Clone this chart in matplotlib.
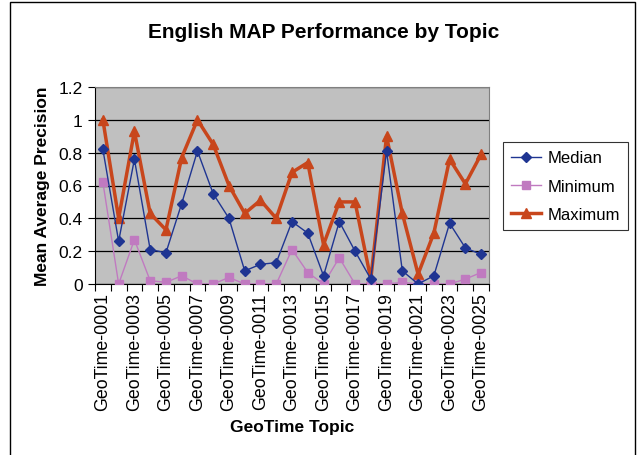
import matplotlib
matplotlib.use("Agg")
import matplotlib.pyplot as plt
from matplotlib.patches import Rectangle
import numpy as np

topics = [f"GeoTime-{i:04d}" for i in range(1, 26)]
median = [0.82, 0.26, 0.76, 0.21, 0.19, 0.49, 0.81, 0.55, 0.40, 0.08, 0.12, 0.13,
          0.38, 0.31, 0.05, 0.38, 0.20, 0.03, 0.81, 0.08, 0.00, 0.05, 0.37, 0.22, 0.18]
minimum = [0.62, 0.00, 0.27, 0.02, 0.01, 0.05, 0.00, 0.00, 0.04, 0.00, 0.00, 0.00,
           0.21, 0.07, 0.00, 0.16, 0.00, 0.00, 0.00, 0.01, 0.00, 0.00, 0.00, 0.03, 0.07]
maximum = [1.00, 0.40, 0.93, 0.43, 0.33, 0.77, 1.00, 0.85, 0.60, 0.43, 0.51, 0.40,
           0.68, 0.74, 0.24, 0.50, 0.50, 0.03, 0.90, 0.43, 0.06, 0.31, 0.76, 0.61, 0.79]
yticks = [0, 0.2, 0.4, 0.6, 0.8, 1, 1.2]
ytick_labels = ["0", "0.2", "0.4", "0.6", "0.8", "1", "1.2"]

plt.rcParams['font.family'] = ['Liberation Sans', 'DejaVu Sans']

W, H = 639, 456
fig = plt.figure(figsize=(W/100, H/100), dpi=100)
fig.patch.set_facecolor('white')

# outer chart border
fig.add_artist(Rectangle((10/W, -0.01), (635-10)/W, (H-3)/H + 0.01, transform=fig.transFigure,
                         fill=False, edgecolor='black', linewidth=1.0))

left, right, top, bottom = 95, 489, 88, 285
ax = fig.add_axes([left/W, 1-bottom/H, (right-left)/W, (bottom-top)/H])
ax.set_facecolor('#C0C0C0')

x = np.arange(len(topics))
ax.plot(x, median, color='#1F3592', lw=1.0, marker='D', ms=5, label='Median', zorder=4)
ax.plot(x, minimum, color='#C07AC0', lw=1.0, marker='s', ms=5.5, label='Minimum', zorder=3)
ax.plot(x, maximum, color='#C8461C', lw=2.5, marker='^', ms=7, label='Maximum', zorder=2)

ax.set_xlim(-0.5, len(topics) - 0.5)
ax.set_ylim(0, 1.2)
ax.set_yticks(yticks)
ax.set_yticklabels(ytick_labels, fontsize=12.5)
ax.yaxis.grid(True, color='black', lw=0.9)
ax.set_axisbelow(True)

ax.set_xticks(np.arange(-0.5, len(topics), 1.0))
ax.set_xticklabels([])
ax.set_xticks(x[::2], minor=True)
ax.set_xticklabels([topics[i] for i in x[::2]], minor=True, rotation=90, fontsize=12.8)
ax.tick_params(axis='x', which='minor', length=0, pad=6)
ax.tick_params(axis='x', which='major', length=5, color='black')
ax.tick_params(axis='y', length=5, pad=4)

for s in ['top', 'right']:
    ax.spines[s].set_color('#808080')
ax.spines['left'].set_color('black')
ax.spines['bottom'].set_color('black')

ax.set_ylabel('Mean Average Precision', fontsize=12.5, fontweight='bold', labelpad=6)
ax.set_xlabel('GeoTime Topic', fontsize=12.5, fontweight='bold', labelpad=6)

fig.text(324/W, 1-33/H, 'English MAP Performance by Topic', fontsize=15, fontweight='bold',
         ha='center', va='center')

leg = fig.legend(loc='upper left', bbox_to_anchor=(503/W, 1-143/H), fontsize=12,
                 frameon=True, fancybox=False, edgecolor='black', handlelength=1.8,
                 borderpad=0.5, labelspacing=0.8, handletextpad=0.35, borderaxespad=0)
leg.get_frame().set_linewidth(0.8)

fig.savefig('out.png', dpi=100)
